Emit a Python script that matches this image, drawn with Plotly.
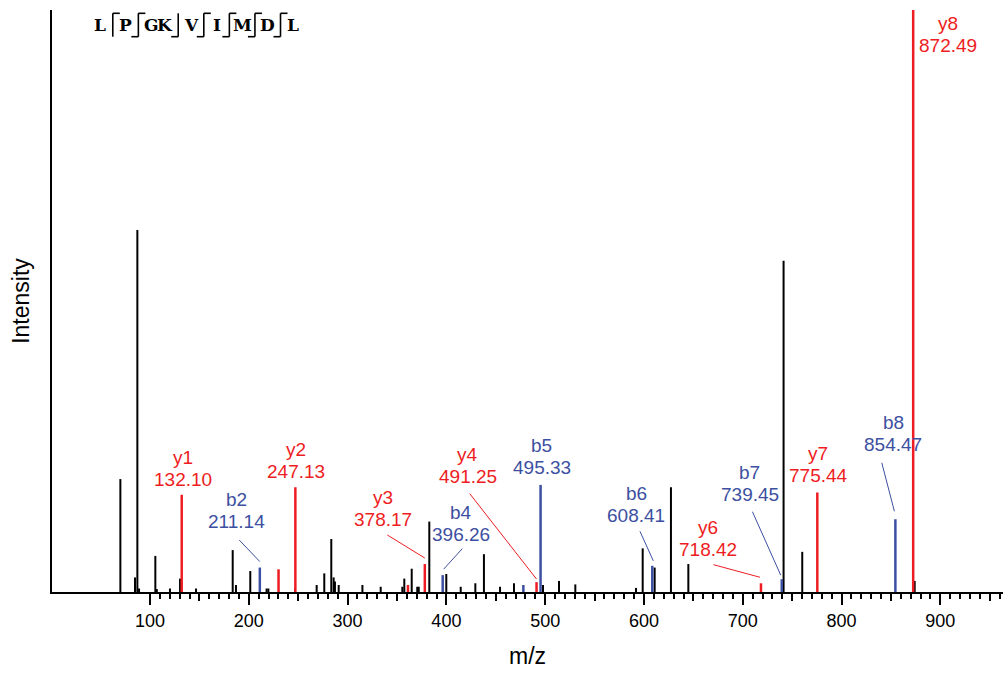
import plotly.graph_objects as go

# ---------------------------------------------------------------- data
sequence = "LPGKVIMDL"
# cleavage sites marked on the sequence (site n = after residue n)
seq_b_sites = [2, 4, 5, 6, 7, 8]
seq_y_sites = [1, 2, 5, 6, 7, 8]

# unassigned peaks: m/z and relative intensity (%)
other_mz = [70.0, 84.8, 87.2, 88.9, 105.4, 106.9, 120.2, 130.4, 146.6, 183.7,
            187.0, 201.5, 218.0, 219.8, 246.8, 268.7, 276.4, 283.5, 285.9, 287.2,
            291.0, 315.0, 333.5, 355.4, 357.4, 364.9, 370.5, 372.0, 382.7, 399.9,
            414.5, 429.3, 438.0, 454.3, 468.4, 497.8, 514.0, 530.5, 591.9, 598.7,
            610.8, 627.3, 644.9, 741.3, 760.2, 874.0]
other_int = [19.4, 2.5, 62.2, 0.6, 6.2, 0.5, 0.6, 2.3, 0.6, 7.2,
             1.2, 3.6, 0.6, 0.6, 0.6, 1.2, 3.2, 9.1, 2.5, 1.8,
             1.2, 1.2, 0.9, 0.9, 2.3, 4.0, 0.9, 0.9, 12.1, 3.1,
             0.9, 1.5, 6.5, 0.9, 1.5, 1.2, 1.9, 1.3, 0.7, 7.5,
             4.2, 18.0, 4.8, 56.9, 6.9, 1.9]

# assigned b ions
b_names = ["b2", "b4", "b5", "b6", "b7", "b8"]
b_mz = [211.14, 396.26, 495.33, 608.41, 739.45, 854.47]
b_int = [4.2, 2.9, 18.4, 4.5, 2.2, 12.5]

# assigned y ions
y_names = ["y1", "y2", "y3", "y4", "y6", "y7", "y8"]
y_mz = [132.10, 247.13, 378.17, 491.25, 718.42, 775.44, 872.49]
y_int = [16.7, 18.0, 4.8, 1.7, 1.5, 17.1, 100.0]

# unlabelled neutral-loss peaks of each series
b_loss_mz = [477.9]
b_loss_int = [1.2]
y_loss_mz = [230.1, 361.1]
y_loss_int = [3.9, 1.2]

x_tick_vals = [100, 200, 300, 400, 500, 600, 700, 800, 900]

# ---------------------------------------------------------------- style
RED = "#EE1D23"
BLUE = "#3D4FA1"
FONT = "Liberation Sans, Arial, sans-serif"

W, H = 1003, 673
M_L, M_R, M_T, M_B = 52, 0, 10, 81
PW, PH = W - M_L - M_R, H - M_T - M_B

# label centre offsets (px, up positive) relative to the peak top
label_offset = {
    "y1": (1, 26), "y2": (1, 27), "y3": (-42, 56), "y4": (-69, 117),
    "y6": (-53, 45), "y7": (1, 28), "y8": (35, -24),
    "b2": (-23, 57), "b4": (18, 52), "b5": (1, 28), "b6": (-16, 61),
    "b7": (-32, 96), "b8": (-2, 86),
}
# leader lines: (tail dx, tail dy), (head dx, head dy) in px, up positive
leader = {
    "b2": ((-22, 29), (0, 6)),
    "y3": ((-39, 30), (0, 6)),
    "b4": ((21, 28), (1, 6)),
    "y4": ((-68, 90), (0, 3)),
    "b6": ((-13, 36), (1, 5)),
    "y6": ((-49, 19), (-1, 6)),
    "b7": ((-30, 69), (-1, 4)),
    "b8": ((-14, 58), (-1, 8)),
}
LINE_HALF = 11  # half the gap between ion name and m/z line


def stems(xs, ys):
    px, py = [], []
    for x, y in zip(xs, ys):
        px += [x, x, None]
        py += [0, y, None]
    return px, py


fig = go.Figure()

for xs, ys, col, w in [
    (other_mz, other_int, "black", 2),
    (b_mz + b_loss_mz, b_int + b_loss_int, BLUE, 2.5),
    (y_mz + y_loss_mz, y_int + y_loss_int, RED, 2.5),
]:
    sx, sy = stems(xs, ys)
    fig.add_trace(go.Scatter(x=sx, y=sy, mode="lines", hoverinfo="skip",
                             line=dict(color=col, width=w)))

# carrier trace for the secondary tick axis (half-hundred ticks)
fig.add_trace(go.Scatter(x=[None], y=[None], xaxis="x2", showlegend=False,
                         hoverinfo="skip"))

annotations = []
for names, mzs, ints, col in [(b_names, b_mz, b_int, BLUE),
                              (y_names, y_mz, y_int, RED)]:
    for name, mz, inten in zip(names, mzs, ints):
        dx, dy = label_offset[name]
        for txt, shift in [(name, dy + LINE_HALF), (f"{mz:.2f}", dy - LINE_HALF)]:
            annotations.append(dict(
                x=mz, y=inten, xref="x", yref="y", text=txt, showarrow=False,
                xanchor="center", yanchor="middle", xshift=dx, yshift=shift,
                font=dict(family=FONT, size=19, color=col)))
        if name in leader:
            (tx, ty), (hx, hy) = leader[name]
            annotations.append(dict(
                x=mz, y=inten, xref="x", yref="y", text="", showarrow=True,
                arrowhead=0, arrowwidth=1, arrowcolor=col,
                axref="pixel", ayref="pixel", ax=tx - hx, ay=-(ty - hy),
                xshift=hx, yshift=hy))


def paper_x(px):
    return (px - M_L) / PW


def paper_y(py):
    return (H - M_B - py) / PH


# peptide sequence with fragment-coverage brackets
SEQ_X0, SEQ_Y = 100, 25
ADV, GAP = 14.3, 11.27
BR_TOP, BR_BOT, HOOK = 13.3, 36.7, 7
BR_LINE = dict(color="black", width=1.6)

shapes = []
xpos = SEQ_X0
for i, aa in enumerate(sequence):
    if i > 0:
        has_b = i in seq_b_sites
        has_y = i in seq_y_sites
        if has_b or has_y:
            xb = xpos + (ADV + GAP) / 2
            shapes.append(dict(type="line", xref="paper", yref="paper",
                               x0=paper_x(xb), x1=paper_x(xb),
                               y0=paper_y(BR_TOP), y1=paper_y(BR_BOT),
                               line=BR_LINE))
            if has_y:
                shapes.append(dict(type="line", xref="paper", yref="paper",
                                   x0=paper_x(xb), x1=paper_x(xb + HOOK),
                                   y0=paper_y(BR_TOP), y1=paper_y(BR_TOP),
                                   line=BR_LINE))
            if has_b:
                shapes.append(dict(type="line", xref="paper", yref="paper",
                                   x0=paper_x(xb - HOOK), x1=paper_x(xb),
                                   y0=paper_y(BR_BOT), y1=paper_y(BR_BOT),
                                   line=BR_LINE))
            xpos += ADV + GAP
        else:
            xpos += ADV
    annotations.append(dict(
        x=paper_x(xpos), y=paper_y(SEQ_Y), xref="paper", yref="paper",
        text=f"<b>{aa}</b>", showarrow=False, xanchor="center", yanchor="middle",
        font=dict(family="DejaVu Serif, serif", size=17, color="black")))

X_RANGE = [0.8, 963.4]

fig.update_layout(
    width=W, height=H,
    margin=dict(l=M_L, r=M_R, t=M_T, b=M_B),
    plot_bgcolor="white", paper_bgcolor="white",
    showlegend=False,
    font=dict(family=FONT, size=18, color="black"),
    annotations=annotations,
    shapes=shapes,
    xaxis=dict(
        range=X_RANGE, showgrid=False, zeroline=False,
        showline=True, linecolor="black", linewidth=2,
        ticks="outside", tickmode="array", tickvals=x_tick_vals,
        ticklen=11, tickwidth=2, tickcolor="black",
        tickfont=dict(family=FONT, size=18, color="black"),
        minor=dict(tickmode="array", tickvals=list(range(100, 961, 10)),
                   ticks="outside", ticklen=5, tickwidth=1.5,
                   tickcolor="black", showgrid=False),
        title=dict(text="m/z", font=dict(family=FONT, size=23, color="black"),
                   standoff=18),
    ),
    xaxis2=dict(
        range=X_RANGE, overlaying="x", anchor="y", side="bottom",
        showgrid=False, zeroline=False, showline=False,
        ticks="outside", tickmode="array",
        tickvals=list(range(150, 961, 100)),
        ticklen=8, tickwidth=2, tickcolor="black", showticklabels=False,
    ),
    yaxis=dict(
        range=[0, 100], showgrid=False, zeroline=False,
        showline=True, linecolor="black", linewidth=2,
        ticks="", showticklabels=False,
        title=dict(text="Intensity",
                   font=dict(family=FONT, size=23, color="black"),
                   standoff=14),
    ),
)

fig.write_html("out.html")
